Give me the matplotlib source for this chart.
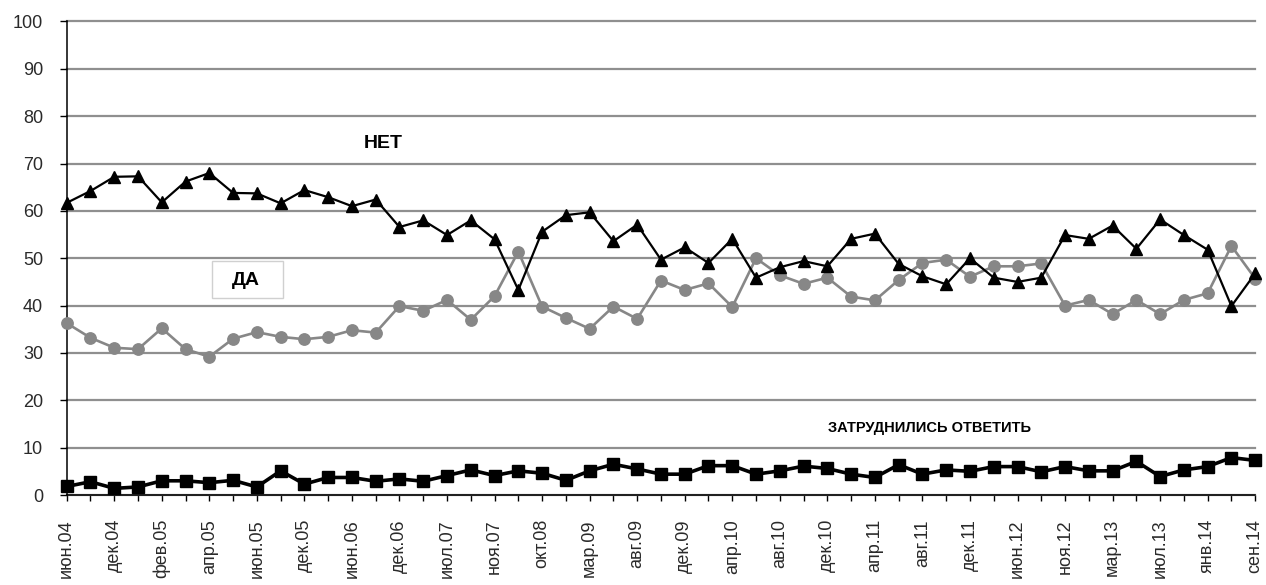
import matplotlib
matplotlib.use("Agg")
import matplotlib.pyplot as plt
from matplotlib.patches import FancyBboxPatch

plt.rcParams['font.family'] = ['Liberation Sans', 'DejaVu Sans']

x_labels = ["июн.04", "дек.04", "фев.05", "апр.05", "июн.05", "дек.05", "июн.06",
            "дек.06", "июл.07", "ноя.07", "окт.08", "мар.09", "авг.09", "дек.09",
            "апр.10", "авг.10", "дек.10", "апр.11", "авг.11", "дек.11", "июн.12",
            "ноя.12", "мар.13", "июл.13", "янв.14", "сен.14"]

net = [61.7, 64.2, 67.2, 67.3, 61.8, 66.2, 68.0, 63.8, 63.7, 61.6,
       64.4, 62.9, 61.0, 62.4, 56.6, 58.0, 54.9, 58.0, 54.0, 43.3,
       55.6, 59.1, 59.7, 53.6, 57.1, 49.7, 52.3, 49.0, 54.1, 45.9,
       48.1, 49.4, 48.3, 54.1, 55.2, 48.8, 46.2, 44.5, 50.0, 45.9,
       45.0, 45.9, 54.9, 54.1, 56.9, 52.0, 58.2, 54.9, 51.8, 39.9,
       46.8]

da = [36.3, 33.2, 31.1, 30.8, 35.2, 30.8, 29.2, 33.0, 34.4, 33.4,
      32.9, 33.4, 34.8, 34.3, 39.9, 38.9, 41.2, 37.0, 42.0, 51.4,
      39.8, 37.4, 35.1, 39.8, 37.2, 45.3, 43.3, 44.7, 39.7, 50.0,
      46.4, 44.6, 45.9, 41.9, 41.1, 45.4, 49.0, 49.7, 46.1, 48.3,
      48.3, 48.9, 40.0, 41.2, 38.2, 41.2, 38.2, 41.2, 42.6, 52.6,
      45.7]

hard = [1.8, 2.8, 1.4, 1.7, 3.0, 3.0, 2.6, 3.1, 1.7, 5.1,
        2.3, 3.7, 3.7, 2.9, 3.4, 2.9, 4.1, 5.3, 4.1, 5.1,
        4.6, 3.1, 5.1, 6.5, 5.5, 4.4, 4.4, 6.2, 6.2, 4.4,
        5.1, 6.1, 5.6, 4.4, 3.7, 6.4, 4.4, 5.3, 5.0, 6.0,
        6.0, 4.9, 6.0, 5.1, 5.1, 7.1, 3.9, 5.3, 6.0, 7.9,
        7.3]

y_ticks = [0, 10, 20, 30, 40, 50, 60, 70, 80, 90, 100]

fig = plt.figure(figsize=(12.66, 5.85), dpi=100)
ax = fig.add_axes([66.7 / 1266, 1 - 495 / 585, (1255.2 - 66.7) / 1266, (495 - 21.5) / 585])

n = len(net)
xs = list(range(n))

ax.plot(xs, da, color='#878787', lw=1.9, marker='o', ms=8.2,
        markerfacecolor='#878787', markeredgecolor='#878787', zorder=3, clip_on=False)
ax.plot(xs, net, color='black', lw=1.6, marker='^', ms=9,
        markerfacecolor='black', markeredgecolor='black', zorder=4, clip_on=False)
ax.plot(xs, hard, color='black', lw=2.6, marker='s', ms=8.3,
        markerfacecolor='black', markeredgecolor='black', zorder=4, clip_on=False)

ax.set_xlim(0, n - 1)
ax.set_ylim(0, 100)
ax.set_yticks(y_ticks)
ax.set_yticklabels([str(v) for v in y_ticks], fontsize=13, color='#2a2a2a')
ax.yaxis.grid(True, color='#8f8f8f', lw=1.6)
for gl in ax.get_ygridlines():
    gl.set_clip_on(False)
ax.set_axisbelow(True)

ax.set_xticks(xs)
lbl_positions = list(range(0, n, 2))
all_labels = [''] * n
for p, t in zip(lbl_positions, x_labels):
    all_labels[p] = t
ax.set_xticklabels(all_labels, rotation=90, fontsize=13, color='#2a2a2a',
                   va='top', ha='center')

ax.tick_params(axis='x', direction='out', length=4.3, width=1, pad=13, color='black')
ax.tick_params(axis='y', direction='out', length=5, width=1, pad=12, color='black')

for s in ['top', 'right']:
    ax.spines[s].set_visible(False)
ax.spines['left'].set_color('black')
ax.spines['bottom'].set_color('black')
ax.spines['left'].set_linewidth(1.1)
ax.spines['bottom'].set_linewidth(1.1)

# annotations
fig.text(383 / 1266, 1 - 143 / 585, "НЕТ", fontsize=14, fontweight='bold',
         ha='center', va='center')
box = FancyBboxPatch((212 / 1266, 1 - 298 / 585), (283 - 212) / 1266, (298 - 261) / 585,
                     boxstyle='square,pad=0', transform=fig.transFigure,
                     facecolor='white', edgecolor='#d0d0d0', lw=1, zorder=5)
fig.patches.append(box)
fig.text(246 / 1266, 1 - 280 / 585, "ДА", fontsize=14, fontweight='bold',
         ha='center', va='center', zorder=6)
fig.text(930 / 1266, 1 - 428 / 585, "ЗАТРУДНИЛИСЬ ОТВЕТИТЬ", fontsize=10.5,
         fontweight='bold', ha='center', va='center')

fig.savefig("out.png", dpi=100)
